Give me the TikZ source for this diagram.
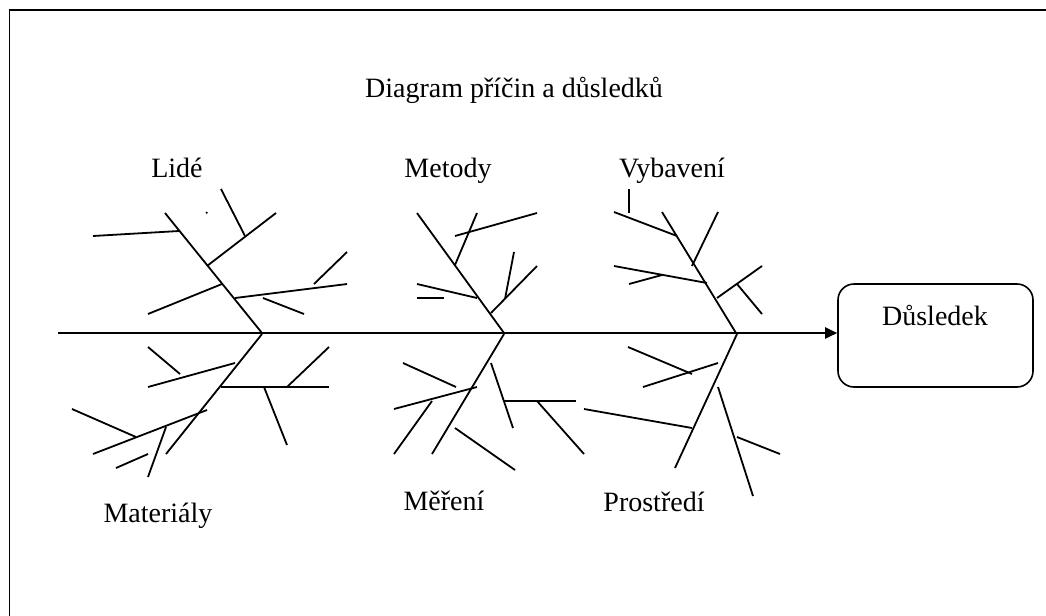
\documentclass[tikz,border=0pt]{standalone}
\usepackage{fontspec}
\setmainfont{Liberation Serif}
\usetikzlibrary{arrows.meta}
\begin{document}
\begin{tikzpicture}[x=0.5pt,y=-0.5pt,
  bone/.style={line width=0.9pt},
  spine/.style={line width=1.2pt},
  lbl/.style={font=\fontsize{14}{16}\selectfont, anchor=base, inner sep=0pt},
  effectbox/.style={draw, line width=0.8pt, rounded corners=8pt, minimum width=97.5pt, minimum height=51.5pt, inner sep=0pt}]
\useasboundingbox (0,0) rectangle (1046,616);
% page frame (top and left edges)
\draw[line width=0.8pt] (9.5,616) -- (9.5,10) -- (1046,10);

% title and category labels
\node[lbl] (title) at (514,97) {Diagram příčin a důsledků};
\node[lbl] (lide) at (177,177) {Lidé};
\node[lbl] (metody) at (448,177) {Metody};
\node[lbl] (vybaveni) at (672,177) {Vybavení};
\node[lbl] (materialy) at (158,522) {Materiály};
\node[lbl] (mereni) at (444,510) {Měření};
\node[lbl] (prostredi) at (654,511) {Prostředí};

% effect box and main spine
\node[effectbox] (effect) at (935.5,335.5) {};
\node[lbl] (effecttext) at (935,325) {Důsledek};
\coordinate (tail) at (58,333);
\draw[spine,-{Triangle[length=6pt,width=5.5pt]}] (tail) -- (tail -| effect.west);

% --- Lidé ---
\draw[bone] (165,213) -- (262,333);
\draw[bone] (93,236) -- (179,231);
\draw[bone] (207,266) -- (276,213);
\draw[bone] (221,189) -- (245,236);
\fill (206.7,212.7) circle (0.6pt);
\draw[bone] (148,314) -- (222,284);
\draw[bone] (235,298) -- (347,284);
\draw[bone] (314,284) -- (347,252);
\draw[bone] (263,298) -- (304,314);

% --- Metody ---
\draw[bone] (417,213) -- (504,333);
\draw[bone] (455,265) -- (477,213);
\draw[bone] (455,236) -- (537,213);
\draw[bone] (417,284) -- (477,298);
\draw[bone] (417,298) -- (444,298);
\draw[bone] (491,313) -- (537,266);
\draw[bone] (505,299) -- (514,252);

% --- Vybavení ---
\draw[bone] (662,212) -- (736,333);
\draw[bone] (629,189) -- (629,213);
\draw[bone] (614,212) -- (677,236);
\draw[bone] (692,266) -- (718,212);
\draw[bone] (614,266) -- (707,283);
\draw[bone] (629,284) -- (662,275);
\draw[bone] (717,298) -- (762,266);
\draw[bone] (737,284) -- (762,314);

% --- Materiály ---
\draw[bone] (262,334) -- (166,454);
\draw[bone] (148,347) -- (180,374);
\draw[bone] (148,387) -- (235,363);
\draw[bone] (221,387) -- (329,387);
\draw[bone] (287,387) -- (329,347);
\draw[bone] (264,387) -- (287,445);
\draw[bone] (93,454) -- (207,410);
\draw[bone] (72,409) -- (136,437);
\draw[bone] (166,427) -- (148,477);
\draw[bone] (116,468) -- (148,454);

% --- Měření ---
\draw[bone] (504,334) -- (432,454);
\draw[bone] (403,363) -- (456,387);
\draw[bone] (394,409) -- (477,387);
\draw[bone] (432,401) -- (394,454);
\draw[bone] (491,363) -- (513,428);
\draw[bone] (504,401) -- (576,401);
\draw[bone] (537,401) -- (584,454);
\draw[bone] (455,428) -- (515,470);

% --- Prostředí ---
\draw[bone] (737,334) -- (675,468);
\draw[bone] (628,347) -- (692,374);
\draw[bone] (643,387) -- (718,363);
\draw[bone] (584,409) -- (692,428);
\draw[bone] (718,387) -- (753,496);
\draw[bone] (737,437) -- (780,454);
\end{tikzpicture}
\end{document}
